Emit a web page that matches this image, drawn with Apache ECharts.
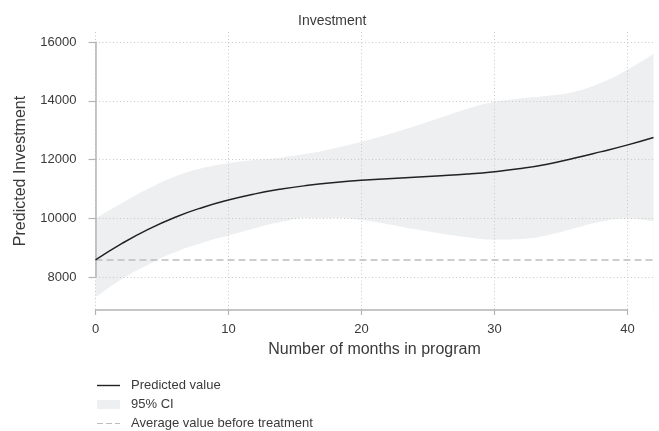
<!DOCTYPE html>
<html>
<head>
<meta charset="utf-8">
<script src="https://cdn.jsdelivr.net/npm/echarts@6/dist/echarts.min.js"></script>
<style>
  html, body { margin: 0; padding: 0; background: #fff; }
  #chart { width: 659px; height: 431px; }
</style>
</head>
<body>
<div id="chart"></div>
<script>
// Months in program (x) and model predictions
const months    = [0, 2, 4, 6, 8, 10, 12, 14, 16, 18, 20, 22, 24, 26, 28, 30, 32, 34, 36, 38, 40, 42];
const predicted = [8580, 9145, 9630, 10035, 10360, 10620, 10830, 10995, 11120, 11215, 11290, 11345, 11395, 11445, 11505, 11585, 11690, 11840, 12040, 12260, 12490, 12750];
const ciUpper   = [10000, 10520, 11010, 11420, 11700, 11870, 11980, 12070, 12200, 12380, 12600, 12850, 13130, 13430, 13730, 13960, 14080, 14170, 14300, 14600, 15050, 15600];
const ciLower   = [7300, 7930, 8430, 8850, 9160, 9410, 9660, 9880, 10010, 10010, 9940, 9800, 9630, 9480, 9350, 9270, 9290, 9420, 9650, 9880, 9990, 9890];
const baselineMonths = [0, 42];
const baselineValue  = [8580, 8580];

// Axis ticks
const yTicks = [8000, 10000, 12000, 14000, 16000];
const xTicks = [0, 10, 20, 30, 40];

const FONT = '"Liberation Sans", Arial, sans-serif';
const AXIS_GRAY = '#b4b4b4';
const GRID_GRAY = '#c8c8c8';
const TEXT = '#3a3a3a';
const BAND = '#eeeff0';

const chart = echarts.init(document.getElementById('chart'), null, { renderer: 'canvas' });

const option = {
  animation: false,
  backgroundColor: '#ffffff',
  textStyle: { fontFamily: FONT },
  title: {
    text: 'Investment',
    left: 298,
    top: 14,
    padding: 0,
    textStyle: { fontFamily: FONT, fontSize: 14, fontWeight: 'normal', color: TEXT }
  },
  legend: {
    orient: 'vertical',
    left: 97,
    top: 379,
    padding: 0,
    itemGap: 6,
    itemWidth: 23,
    itemHeight: 9,
    textStyle: { fontFamily: FONT, fontSize: 13, color: TEXT, padding: [0, 0, 0, 6] },
    data: [
      { name: 'Predicted value', icon: 'path://M0,4 L23,4 L23,5.4 L0,5.4 Z', itemStyle: { color: '#222' } },
      { name: '95% CI', icon: 'rect', itemStyle: { color: BAND } },
      { name: 'Average value before treatment', icon: 'path://M0,4 L6,4 L6,5.2 L0,5.2 Z M9,4 L15,4 L15,5.2 L9,5.2 Z M18,4 L23,4 L23,5.2 L18,5.2 Z', itemStyle: { color: '#bdbdbd' } }
    ]
  },
  grid: [
    // plotting region (data)
    { left: 95.5, right: 5.5, top: 32, bottom: 121 },
    // value axis spanning 8000-16000
    { left: 95.5, right: 5.5, top: 42, bottom: 154 },
    // month axis spanning 0-40
    { left: 95.5, right: 31.5, top: 32, bottom: 121 }
  ],
  xAxis: [
    {
      gridIndex: 0, type: 'value', min: 0, max: 42,
      name: 'Number of months in program', nameLocation: 'middle', nameGap: 32,
      nameTextStyle: { fontFamily: FONT, fontSize: 16, color: TEXT },
      axisLine: { show: false }, axisTick: { show: false }, axisLabel: { show: false }, splitLine: { show: false }
    },
    {
      gridIndex: 1, type: 'value', min: 0, max: 42, show: false
    },
    {
      gridIndex: 2, type: 'value', min: xTicks[0], max: xTicks[xTicks.length - 1], interval: 10, z: 1,
      axisLine: { show: true, lineStyle: { color: AXIS_GRAY, width: 1.5 } },
      axisTick: { show: true, length: 5, lineStyle: { color: AXIS_GRAY, width: 1.2 } },
      axisLabel: { margin: 13, fontFamily: FONT, fontSize: 13, color: TEXT, formatter: v => String(v) },
      splitLine: { show: true, lineStyle: { color: GRID_GRAY, width: 1, type: [1, 2.5] } }
    }
  ],
  yAxis: [
    {
      gridIndex: 0, type: 'value', min: 6877, max: 16340,
      name: 'Predicted Investment', nameLocation: 'middle', nameGap: 67,
      nameTextStyle: { fontFamily: FONT, fontSize: 16, color: TEXT },
      axisLine: { show: false }, axisTick: { show: false }, axisLabel: { show: false }, splitLine: { show: false }
    },
    {
      gridIndex: 1, type: 'value', min: yTicks[0], max: yTicks[yTicks.length - 1], interval: 2000, offset: 10, z: 1,
      axisLine: { show: true, lineStyle: { color: AXIS_GRAY, width: 1.5 } },
      axisTick: { show: true, length: 7, lineStyle: { color: AXIS_GRAY, width: 1.2 } },
      axisLabel: { margin: 9, fontFamily: FONT, fontSize: 13, color: TEXT, formatter: v => String(v) },
      splitLine: { show: true, lineStyle: { color: GRID_GRAY, width: 1, type: [1, 2.5] } }
    },
    {
      gridIndex: 2, type: 'value', min: 0, max: 1, show: false
    }
  ],
  series: [
    // upper CI bound filled down to the bottom of the plot
    {
      name: '95% CI', type: 'line', xAxisIndex: 0, yAxisIndex: 0, z: 0,
      smooth: 0.5, symbol: 'none', silent: true,
      lineStyle: { width: 0, opacity: 0 },
      areaStyle: { color: BAND, opacity: 1, origin: 'start' },
      itemStyle: { color: BAND },
      data: months.map((m, i) => [m, ciUpper[i]])
    },
    // lower CI bound masks the fill beneath the interval
    {
      name: 'ciLowerMask', type: 'line', xAxisIndex: 0, yAxisIndex: 0, z: 0,
      smooth: 0.5, symbol: 'none', silent: true,
      lineStyle: { width: 0, opacity: 0 },
      areaStyle: { color: '#ffffff', opacity: 1, origin: 'start' },
      data: months.map((m, i) => [m, ciLower[i]])
    },
    {
      name: 'Average value before treatment', type: 'line', xAxisIndex: 0, yAxisIndex: 0, z: 2,
      symbol: 'none', silent: true,
      lineStyle: { color: '#bdbdbd', width: 1.5, type: [7, 4] },
      itemStyle: { color: '#bdbdbd' },
      data: baselineMonths.map((m, i) => [m, baselineValue[i]])
    },
    {
      name: 'Predicted value', type: 'line', xAxisIndex: 0, yAxisIndex: 0, z: 3,
      smooth: 0.5, symbol: 'none', silent: true,
      lineStyle: { color: '#222222', width: 1.5 },
      itemStyle: { color: '#222222' },
      data: months.map((m, i) => [m, predicted[i]])
    }
  ]
};

chart.setOption(option);
</script>
</body>
</html>
